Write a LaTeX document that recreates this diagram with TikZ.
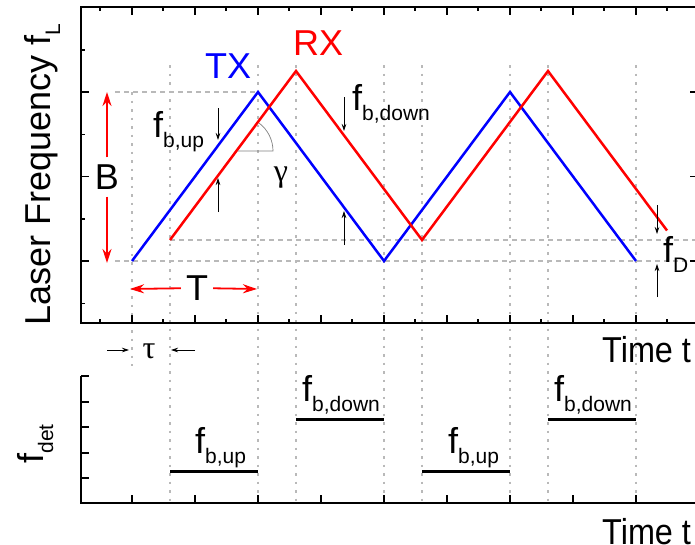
\documentclass[tikz,border=0pt]{standalone}
\usepackage{fontspec}
\setmainfont{Liberation Sans}
\newfontfamily\greekfont{Liberation Serif}
\usetikzlibrary{arrows.meta}
\usetikzlibrary{positioning}

\newcommand{\lowtxt}[1]{\raisebox{-10pt}{\fontsize{21}{21}\selectfont #1}}

\begin{document}
\begin{tikzpicture}[x=1pt, y=-1pt, every node/.style={inner sep=0pt, font=\fontsize{36}{36}\selectfont},
    tx/.style={blue, line width=2.5pt},
    rx/.style={red, line width=2.5pt},
    guide/.style={gray!55, line width=1.5pt, dash pattern=on 2.5pt off 6pt},
    level/.style={gray!55, line width=1.3pt, dash pattern=on 5pt off 4pt},
    gap/.style={black, line width=0.7pt, -{Stealth[length=7pt,width=4.5pt]}},
    span/.style={red, line width=1.8pt, -{Stealth[length=14pt,width=9pt]}},
    axis/.style={line width=1.5pt},
    beat/.style={line width=3pt},
    greek/.style={font=\fontsize{32}{32}\selectfont\greekfont}]
        \useasboundingbox (0,0) rectangle (695,544);
        \clip (0,0) rectangle (695,544);

        \foreach \x in {170,258,296,384,422,510,548,636}
            \draw[guide] (\x,65) -- (\x,503);
        \draw[guide] (132,92) -- (132,366);
        \draw[level] (115,92) -- (258,92);
        \draw[level] (115,261) -- (695,261);
        \draw[level] (170,240) -- (695,240);

        \draw[axis] (81,7) -- (81,323) -- (698,323) -- (698,7) -- cycle;
        \foreach \x in {132,195,...,699} {
            \draw[axis] (\x,323) -- (\x,315);
            \draw[axis] (\x,7) -- (\x,15);
        }
        \foreach \x in {100,163,...,668} {
            \draw[axis] (\x,323) -- (\x,319);
            \draw[axis] (\x,7) -- (\x,11);
        }
        \foreach \y in {92,176.5,261} {
            \draw[axis] (81,\y) -- (89,\y);
            \draw[axis] (698,\y) -- (690,\y);
        }
        \foreach \y in {49.75,134.25,218.75,303.25}
            \draw[axis] (81,\y) -- (85,\y);

        \draw[axis] (81,376) -- (81,503) -- (698,503);
        \foreach \y in {376,402,427,453,478}
            \draw[axis] (81,\y) -- (89,\y);
        \foreach \x in {132,195,...,699}
            \draw[axis] (\x,503) -- (\x,495);

        \coordinate (t0) at (132,261);
        \coordinate (t1) at (258,92);
        \coordinate (t2) at (384,261);
        \coordinate (t3) at (510,92);
        \coordinate (t4) at (636,261);
        \draw[tx] (t0) -- (t1) -- (t2) -- (t3) -- (t4);

        \coordinate (r0) at (170,240);
        \coordinate (r1) at (296,71);
        \coordinate (r2) at (422,240);
        \coordinate (r3) at (548,71);
        \coordinate (r4) at (667,230.5);
        \draw[rx] (r0) -- (r1) -- (r2) -- (r3) -- (r4);

        \coordinate (gam) at (238,151);
        \draw[gray, line width=0.7pt] (gam) -- ++(35,0) arc[start angle=0, end angle=53, radius=35pt];
        \node[greek] (gamlabel) at (281,178) {γ};

        \node[blue, anchor=base west] (txlabel) at (205,78) {TX};
        \node[red, anchor=base west] (rxlabel) at (293,55) {RX};

        \node[inner sep=7pt] (blabel) at (107,177) {B};
        \coordinate (btop) at (107,92);
        \coordinate (bbot) at (107,263);
        \draw[span] (blabel) -- (btop);
        \draw[span] (blabel) -- (bbot);

        \node[inner sep=5pt] (tlabel) at (197,288) {T};
        \coordinate (tleft) at (130,289);
        \coordinate (tright) at (257,289);
        \draw[span] (tlabel) -- (tleft);
        \draw[span] (tlabel) -- (tright);

        \node[greek] (taulabel) at (149,351) {τ};
        \coordinate (tau1) at (107,350);
        \coordinate (tau2) at (129,350);
        \coordinate (tau3) at (195,350);
        \coordinate (tau4) at (171,350);
        \draw[gap] (tau1) -- (tau2);
        \draw[gap] (tau3) -- (tau4);

        \node[anchor=base west] (fbup) at (153,137) {f\lowtxt{b,up}};
        \node[anchor=base west] (fbdown) at (352,110) {f\lowtxt{b,down}};
        \node[anchor=base west] (fd) at (663,262) {f\lowtxt{D}};
        \foreach \x/\a/\b/\c/\d [count=\i] in {218/108/140/212/178, 344/97/131/245/211, 657/205/234/297/264} {
            \coordinate (g\i a) at (\x,\a);
            \coordinate (g\i b) at (\x,\b);
            \coordinate (g\i c) at (\x,\c);
            \coordinate (g\i d) at (\x,\d);
            \draw[gap] (g\i a) -- (g\i b);
            \draw[gap] (g\i c) -- (g\i d);
        }

        \draw[beat] (170,471) -- (258,471);
        \draw[beat] (296,419) -- (384,419);
        \draw[beat] (422,471) -- (510,471);
        \draw[beat] (548,419) -- (636,419);
        \node[anchor=base west] (up1) at (195,453) {f\lowtxt{b,up}};
        \node[anchor=base west] (down1) at (302,401) {f\lowtxt{b,down}};
        \node[anchor=base west] (up2) at (448,453) {f\lowtxt{b,up}};
        \node[anchor=base west] (down2) at (554,401) {f\lowtxt{b,down}};

        \node[rotate=90, anchor=base] (ylabel) at (50,175) {Laser Frequency f\lowtxt{L}};
        \node[rotate=90, anchor=base] (detlabel) at (43,444) {f\lowtxt{det}};
        \node[anchor=base west] (time1) at (602,362) {\scalebox{0.9}[1]{Time t}};
        \node[anchor=base west] (time2) at (602,544) {\scalebox{0.9}[1]{Time t}};
      \end{tikzpicture}
\end{document}
